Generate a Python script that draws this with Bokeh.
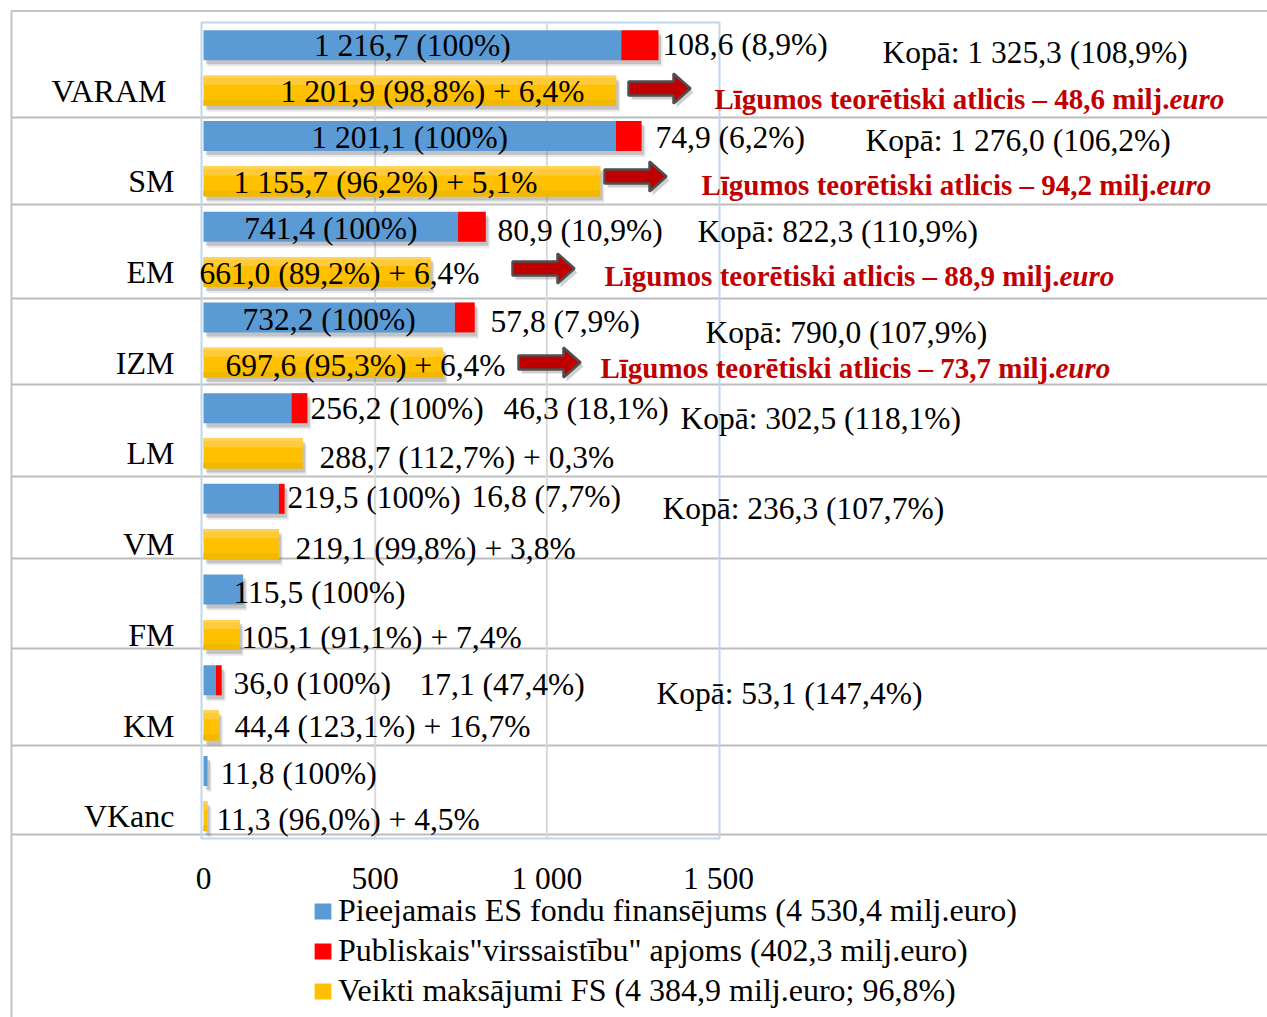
from bokeh.plotting import figure
from bokeh.models import Range1d, ColumnDataSource, Legend, LegendItem
from bokeh.core.properties import value
from bokeh.embed import file_html
from bokeh.resources import INLINE

# ---------------- data ----------------
categories = ["VARAM", "SM", "EM", "IZM", "LM", "VM", "FM", "KM", "VKanc"]
available = [1216.7, 1201.1, 741.4, 732.2, 256.2, 219.5, 115.5, 36.0, 11.8]
overcommit = [108.6, 74.9, 80.9, 57.8, 46.3, 16.8, 0.0, 17.1, 0.0]
payments = [1201.9, 1155.7, 661.0, 697.6, 288.7, 219.1, 105.1, 44.4, 11.3]
over_pct = [8.9, 6.2, 10.9, 7.9, 18.1, 7.7, None, 47.4, None]
total_pct = [108.9, 106.2, 110.9, 107.9, 118.1, 107.7, None, 147.4, None]
pay_pct = [98.8, 96.2, 89.2, 95.3, 112.7, 99.8, 91.1, 123.1, 96.0]
extra_pct = [6.4, 5.1, 6.4, 6.4, 0.3, 3.8, 7.4, 16.7, 4.5]
deferred = [48.6, 94.2, 88.9, 73.7]
x_ticks = [0, 500, 1000, 1500]
x_tick_labels = ["0", "500", "1 000", "1 500"]
legend_labels = [
    "Pieejamais ES fondu finansējums (4 530,4 milj.euro)",
    'Publiskais"virssaistību" apjoms (402,3 milj.euro)',
    "Veikti maksājumi FS (4 384,9 milj.euro; 96,8%)",
]

# ---------------- layout (page pixels) ----------------
W, H = 1267, 1017
OFF = 0
X0_PX, X1500_PX = 203.0, 718.0
ROW0_PX, ROW_PX = 67.5, 90.7
K = (X1500_PX - X0_PX) / 1500.0


def dx(px):
    return (px - X0_PX) / K


def dy(py):
    return (py - ROW0_PX) / ROW_PX


FONT = "Liberation Serif"
FS = "31.5px"
LFS = "32px"
RFS = "29px"
BLUE, RED, YEL, DARKRED = "#5B9BD5", "#FF0000", "#FFC000", "#C00000"

cat_right_px = [166, 174, 174, 174, 174, 174, 174, 174, 174]
blue_lbl_px = [(None, 45), (None, 137), (None, 228), (None, 319), (310, 408),
               (287, 497), (233, 592), (233, 683), (220, 773)]
over_lbl_px = [(662, 44), (655, 137), (497, 230), (490, 321), (503, 408),
               (471, 496), None, (419, 684), None]
kopa_lbl_px = [(882, 52), (865, 140), (697, 231), (705, 332), (680, 418),
               (662, 508), None, (656, 693), None]
yel_lbl_px = [(432, 91, "center"), (385, 182, "center"), (339, 273, "center"),
              (365, 365, "center"), (319, 457, "left"), (295, 548, "left"),
              (241, 637, "left"), (234, 726, "left"), (216, 819, "left")]
deferred_split_px = [(1169, 98), (1156, 184), (1059, 275), (1055, 367)]
arrow_px = [(628, 88), (604, 176), (512, 268), (518, 362)]
row_rules_px = [117, 204, 298, 384, 476, 558, 648, 745, 834]
BOX = (201, 22, 719, 838)


def fmt(v):
    return f"{v:,.1f}".replace(",", " ").replace(".", ",")


def pct(v):
    return f"{v:.1f}".replace(".", ",") + "%"


p = figure(width=W, height=H,
           x_range=Range1d(dx(OFF), dx(OFF + W)),
           y_range=Range1d(dy(OFF + H), dy(OFF)),
           output_backend="svg", toolbar_location=None,
           x_axis_type=None, y_axis_type=None, min_border=0)
p.outline_line_color = None
p.background_fill_color = "white"
p.border_fill_color = "white"

# ---- outer frame & row rules ----
p.segment(x0=[dx(11)], y0=[dy(10.5)], x1=[dx(1270)], y1=[dy(10.5)],
          line_color="#C4C4C4", line_width=2)
p.segment(x0=[dx(11)], y0=[dy(10)], x1=[dx(11)], y1=[dy(1020)],
          line_color="#C4C4C4", line_width=2)
p.segment(x0=[dx(11)] * len(row_rules_px), y0=[dy(v) for v in row_rules_px],
          x1=[dx(1270)] * len(row_rules_px), y1=[dy(v) for v in row_rules_px],
          line_color="#BDBDBD", line_width=2)

# ---- plot box and gridlines ----
p.segment(x0=x_ticks[1:3], y0=[dy(BOX[1])] * 2, x1=x_ticks[1:3], y1=[dy(BOX[3])] * 2,
          line_color="#D9D9D9", line_width=2)
p.quad(left=[dx(BOX[0])], right=[dx(BOX[2])], top=[dy(BOX[1])], bottom=[dy(BOX[3])],
       fill_color=None, line_color="#BDD7EE", line_width=2)

# ---- bars ----
n = len(categories)
yb = [i - 0.25 for i in range(n)]
yy = [i + 0.25 for i in range(n)]
BH = 30.0 / ROW_PX
tot = [a + o for a, o in zip(available, overcommit)]

for off_x, off_y, alpha in [(4, 6, 0.15), (2.5, 4, 0.3)]:
    ox, oy = off_x / K, off_y / ROW_PX
    p.hbar(y=[v + oy for v in yb], left=[ox] * n, right=[t + ox for t in tot], height=BH,
           fill_color="#6E6E6E", fill_alpha=alpha, line_color=None)
    p.hbar(y=[v + oy for v in yy], left=[ox] * n, right=[t + ox for t in payments], height=BH,
           fill_color="#6E6E6E", fill_alpha=alpha, line_color=None)

r_blue = p.hbar(y=yb, left=0, right=available, height=BH, fill_color=BLUE, line_color=None)
r_red = p.hbar(y=yb, left=available, right=tot, height=BH, fill_color=RED, line_color=None)
r_yel = p.hbar(y=yy, left=0, right=payments, height=BH, fill_color=YEL, line_color=None)
# gradient bands on yellow bars
p.hbar(y=[v - BH / 2 + BH * 0.15 for v in yy], left=0, right=payments, height=BH * 0.3,
       fill_color="#FFCB3A", line_color=None)
p.hbar(y=[v - BH / 2 + BH * 0.04 for v in yy], left=0, right=payments, height=BH * 0.08,
       fill_color="#FFD35A", line_color=None)
p.hbar(y=[v + BH / 2 - BH * 0.1 for v in yy], left=0, right=payments, height=BH * 0.2,
       fill_color="#F2B800", line_color=None)

# ---- arrows ----
for shadow in (True, False):
    xs, ys = [], []
    for ax, ay in arrow_px:
        if shadow:
            ax, ay = ax + 3, ay + 4
        pts = [(ax, ay - 7), (ax + 45, ay - 7), (ax + 45, ay - 15), (ax + 62, ay),
               (ax + 45, ay + 15), (ax + 45, ay + 7), (ax, ay + 7)]
        xs.append([dx(a) for a, b in pts])
        ys.append([dy(b) for a, b in pts])
    if shadow:
        p.patches(xs, ys, fill_color="#777777", fill_alpha=0.35, line_color=None)
    else:
        p.patches(xs, ys, fill_color=DARKRED, line_color="#4F4F4F", line_width=2.5)


def put(texts, xs, ys, align="left", color="black", style="normal", size=FS):
    src = ColumnDataSource(dict(x=xs, y=ys, t=texts))
    p.text(x="x", y="y", text="t", source=src, text_font=value(FONT),
           text_font_size=size, text_align=align, text_baseline="middle",
           text_color=color, text_font_style=style)


# category labels
put(categories, [dx(v) for v in cat_right_px], yy, align="right", size=LFS)

# blue labels
for i in range(n):
    t = f"{fmt(available[i])} (100%)"
    px, py = blue_lbl_px[i]
    if px is None:
        put([t], [available[i] / 2], [dy(py)], align="center")
    else:
        put([t], [dx(px)], [dy(py)])

# overcommit labels and totals
for i in range(n):
    if over_lbl_px[i] is not None:
        px, py = over_lbl_px[i]
        put([f"{fmt(overcommit[i])} ({pct(over_pct[i])})"], [dx(px)], [dy(py)])
    if kopa_lbl_px[i] is not None:
        px, py = kopa_lbl_px[i]
        put([f"Kopā: {fmt(tot[i])} ({pct(total_pct[i])})"], [dx(px)], [dy(py)])

# payment labels
for i in range(n):
    px, py, al = yel_lbl_px[i]
    put([f"{fmt(payments[i])} ({pct(pay_pct[i])}) + {pct(extra_pct[i])}"],
        [dx(px)], [dy(py)], align=al)

# deferred contracts (red)
for d, (px, py) in zip(deferred, deferred_split_px):
    put([f"Līgumos teorētiski atlicis – {fmt(d)} milj."], [dx(px)], [dy(py)],
        align="right", color=DARKRED, style="bold", size=RFS)
    put(["euro"], [dx(px)], [dy(py)], align="left", color=DARKRED,
        style="bold italic", size=RFS)

# x tick labels
put(x_tick_labels, x_ticks, [dy(878)] * len(x_ticks), align="center")

# ---- legend ----
legend = Legend(
    items=[LegendItem(label=legend_labels[0], renderers=[r_blue]),
           LegendItem(label=legend_labels[1], renderers=[r_red]),
           LegendItem(label=legend_labels[2], renderers=[r_yel])],
    location=(312, 8), orientation="vertical",
    glyph_width=21, glyph_height=20, label_standoff=5, spacing=3,
    padding=0, margin=0, border_line_color=None, background_fill_alpha=0,
    label_text_font=FONT, label_text_font_size=LFS, label_text_color="black",
)
p.add_layout(legend)

open("out.html", "w").write(file_html(p, INLINE))
